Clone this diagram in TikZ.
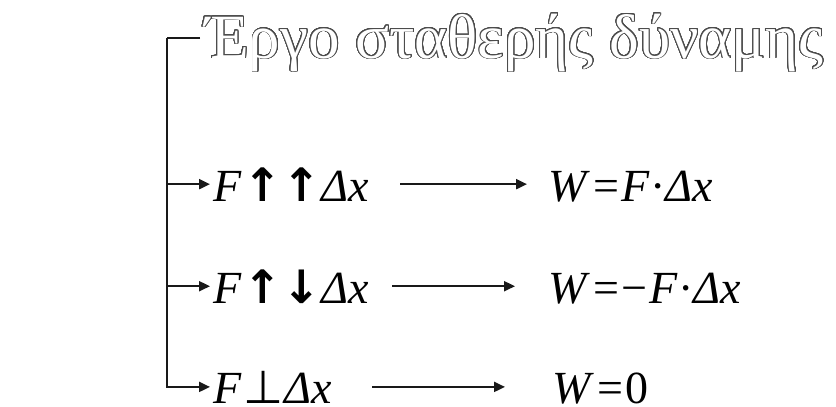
\documentclass[tikz,border=0pt]{standalone}
\usepackage{fontspec}
\usepackage[copies]{contour}
\contourlength{0.9pt}
\contournumber{32}
\setmainfont{Liberation Serif}
\newfontfamily\arrowfont{DejaVu Sans}
\usepackage{tikz}
\usetikzlibrary{arrows.meta, positioning, calc}

\newcommand{\up}{{\arrowfont\bfseries ↑}}
\newcommand{\down}{{\arrowfont\bfseries ↓}}
\newcommand{\perpto}{{\arrowfont ⊥}}
\newcommand{\eqsign}{\kern3pt=\kern3pt}

\begin{document}
\begin{tikzpicture}[
        x=1pt, y=1pt,
        % Styles
        heading/.style={
            anchor=base west, inner sep=0pt,
            font=\fontsize{63}{63}\selectfont
        },
        cond/.style={
            anchor=base west, inner sep=0pt,
            font=\fontsize{46}{46}\selectfont
        },
        result/.style={
            anchor=base west, inner sep=0pt,
            font=\fontsize{46}{46}\selectfont
        },
        wire/.style={
            draw=black!90, line width=2.5pt
        },
        line/.style={
            -{Triangle[length=11pt, width=10pt]},
            draw=black!90, line width=2.2pt
        }
    ]
        \useasboundingbox (0,0) rectangle (836,-407);

        % Title
        \node[heading] (title) at (205,-58)
            {\contour{black!70}{\color{white}Έργο σταθερής δύναμης}};
        \coordinate (trunk) at (167,-38);

        % Conditions
        \node[cond] (c1) at (213,-201) {\textit{F}\kern2pt\up\up\kern1pt\textit{Δx}};
        \node[cond] (c2) at (213,-303) {\textit{F}\kern2pt\up\down\kern1pt\textit{Δx}};
        \node[cond] (c3) at (213,-403) {\textit{F}\kern2pt\perpto\kern1pt\textit{Δx}};

        % Results
        \node[result] (r1) at (548,-201) {\textit{W}\eqsign\textit{F}·\textit{Δx}};
        \node[result] (r2) at (548,-303) {\textit{W}\eqsign−\kern2pt\textit{F}·\textit{Δx}};
        \node[result] (r3) at (552,-403) {\textit{W}\eqsign0};

        % Tree
        \draw[wire, shorten <=5pt] (title.west |- trunk) -- (trunk);
        \draw[line, shorten >=3pt] (trunk) |- (c3.west);
        \draw[line, shorten >=3pt] (c1.west -| trunk) -- (c1.west);
        \draw[line, shorten >=3pt] (c2.west -| trunk) -- (c2.west);

        % Consequences
        \draw[line, shorten <=31pt, shorten >=21pt] (c1.east) -- (c1.east -| r1.west);
        \draw[line, shorten <=23pt, shorten >=33pt] (c2.east) -- (c2.east -| r2.west);
        \draw[line, shorten <=40pt, shorten >=47pt] (c3.east) -- (c3.east -| r3.west);

    \end{tikzpicture}
\end{document}
